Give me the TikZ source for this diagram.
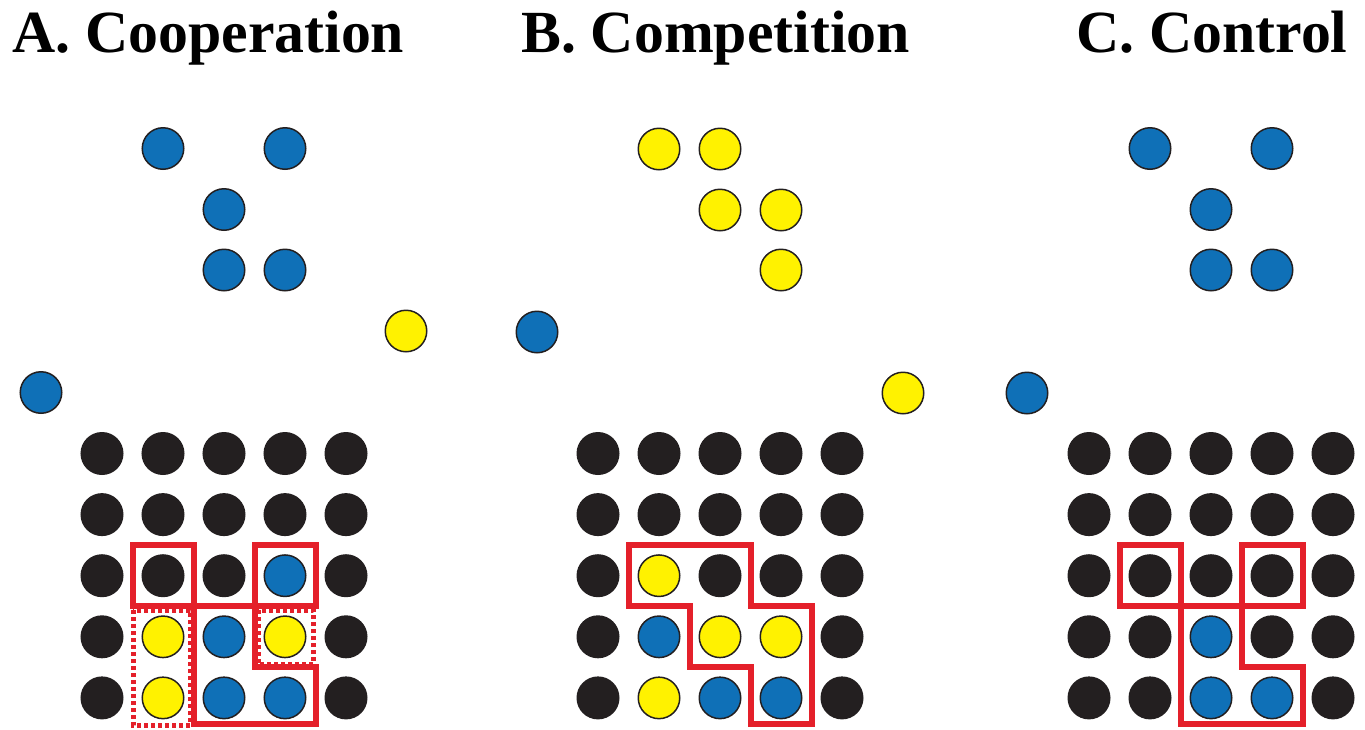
\documentclass[tikz,border=0pt]{standalone}
\usepackage{fontspec}
\setmainfont{Liberation Serif}
\definecolor{dotblue}{HTML}{0F70B7}
\definecolor{dotyellow}{HTML}{FFF200}
\definecolor{dotblack}{HTML}{231F20}
\definecolor{boxred}{HTML}{E4202A}
\newcommand\dotrow[4]{%
  \foreach \cl [count=\kk from 0] in {#4} {%
    \node[dot,fill=\cl] (#1-#3-\kk) at ({#2+61*\kk},{453.5+61.1*#3}) {};}}
\begin{document}
\begin{tikzpicture}[x=1pt,y=-1pt,
  dot/.style={circle,draw=dotblack,line width=1.5pt,minimum size=41.5pt,inner sep=0pt},
  title/.style={anchor=base west,inner sep=0pt,font=\bfseries\fontsize{59.8}{60}\selectfont},
  solidbox/.style={draw=boxred,line width=6pt,line join=miter},
  dashbox/.style={draw=boxred,line width=5pt,dash pattern=on 4pt off 3pt}]
\useasboundingbox (0,0) rectangle (1365,729);
% titles
\node[title] (tA) at (12,52) {A. Cooperation};
\node[title] (tB) at (521,52) {B. Competition};
\node[title] (tC) at (1076,52) {C. Control};
% free dots, panel A
\node[dot,fill=dotblue] (a1) at (163,148.5) {};
\node[dot,fill=dotblue] (a2) at (285,148.5) {};
\node[dot,fill=dotblue] (a3) at (224,209.5) {};
\node[dot,fill=dotblue] (a4) at (224,270) {};
\node[dot,fill=dotblue] (a5) at (285,270) {};
\node[dot,fill=dotyellow] (a6) at (406,331) {};
\node[dot,fill=dotblue] (a7) at (537,332) {};
\node[dot,fill=dotblue] (a8) at (41,392.5) {};
% free dots, panel B
\node[dot,fill=dotyellow] (b1) at (659,149) {};
\node[dot,fill=dotyellow] (b2) at (720,149) {};
\node[dot,fill=dotyellow] (b3) at (720,210) {};
\node[dot,fill=dotyellow] (b4) at (781,210) {};
\node[dot,fill=dotyellow] (b5) at (781,270) {};
\node[dot,fill=dotyellow] (b6) at (903,393) {};
\node[dot,fill=dotblue] (b7) at (1027,393) {};
% free dots, panel C
\node[dot,fill=dotblue] (c1) at (1150,148.5) {};
\node[dot,fill=dotblue] (c2) at (1272,148.5) {};
\node[dot,fill=dotblue] (c3) at (1211,209.5) {};
\node[dot,fill=dotblue] (c4) at (1211,270) {};
\node[dot,fill=dotblue] (c5) at (1272,270) {};
% grids
\dotrow{A}{102}{0}{dotblack,dotblack,dotblack,dotblack,dotblack}
\dotrow{A}{102}{1}{dotblack,dotblack,dotblack,dotblack,dotblack}
\dotrow{A}{102}{2}{dotblack,dotblack,dotblack,dotblue,dotblack}
\dotrow{A}{102}{3}{dotblack,dotyellow,dotblue,dotyellow,dotblack}
\dotrow{A}{102}{4}{dotblack,dotyellow,dotblue,dotblue,dotblack}
\dotrow{B}{598}{0}{dotblack,dotblack,dotblack,dotblack,dotblack}
\dotrow{B}{598}{1}{dotblack,dotblack,dotblack,dotblack,dotblack}
\dotrow{B}{598}{2}{dotblack,dotyellow,dotblack,dotblack,dotblack}
\dotrow{B}{598}{3}{dotblack,dotblue,dotyellow,dotyellow,dotblack}
\dotrow{B}{598}{4}{dotblack,dotyellow,dotblue,dotblue,dotblack}
\dotrow{C}{1089}{0}{dotblack,dotblack,dotblack,dotblack,dotblack}
\dotrow{C}{1089}{1}{dotblack,dotblack,dotblack,dotblack,dotblack}
\dotrow{C}{1089}{2}{dotblack,dotblack,dotblack,dotblack,dotblack}
\dotrow{C}{1089}{3}{dotblack,dotblack,dotblue,dotblack,dotblack}
\dotrow{C}{1089}{4}{dotblack,dotblack,dotblue,dotblue,dotblack}
% outlines, panel A
\draw[solidbox] (132.5,545.2) rectangle (193.5,606.3);
\draw[solidbox] (254.5,545.2) rectangle (315.5,606.3);
\draw[solidbox] (193.5,606.3) -- (254.5,606.3) -- (254.5,667.4) -- (315.5,667.4)
  -- (315.5,724) -- (193.5,724) -- cycle;
\draw[dashbox] (133,610) rectangle (190,725);
\draw[dashbox] (258,610) rectangle (313,664);
% outline, panel B
\draw[solidbox] (628.5,545.2) -- (750.5,545.2) -- (750.5,606.3) -- (811.5,606.3)
  -- (811.5,724) -- (750.5,724) -- (750.5,667.4) -- (689.5,667.4)
  -- (689.5,606.3) -- (628.5,606.3) -- cycle;
% outlines, panel C
\draw[solidbox] (1119.5,545.2) rectangle (1180.5,606.3);
\draw[solidbox] (1241.5,545.2) rectangle (1302.5,606.3);
\draw[solidbox] (1180.5,606.3) -- (1241.5,606.3) -- (1241.5,667.4) -- (1302.5,667.4)
  -- (1302.5,724) -- (1180.5,724) -- cycle;
\end{tikzpicture}
\end{document}
